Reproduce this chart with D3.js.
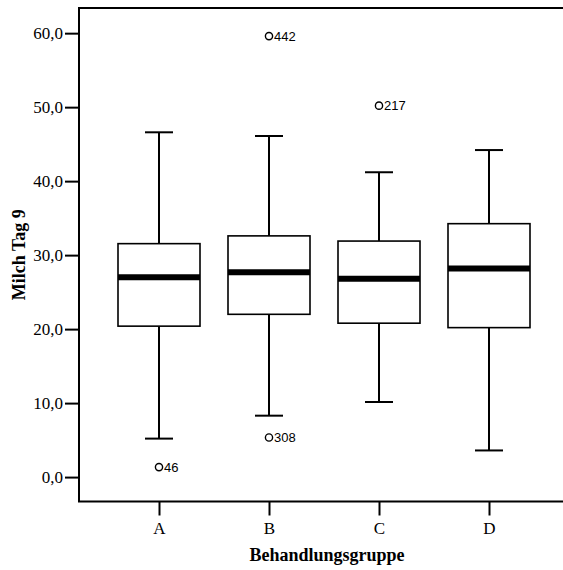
<!DOCTYPE html>
<html>
<head>
<meta charset="utf-8">
<script src="https://cdn.jsdelivr.net/npm/d3@7"></script>
<style>
  html, body { margin: 0; padding: 0; background: #fff; overflow: hidden; }
  svg { display: block; overflow: hidden; }
</style>
</head>
<body>
<svg id="chart" width="563" height="570"></svg>
<script>
// Milk yield on day 9 by treatment group
const groups   = ["A", "B", "C", "D"];
const whiskLo  = [5.2, 8.3, 10.15, 3.6];
const q1       = [20.4, 22.0, 20.8, 20.2];
const medians  = [27.0, 27.7, 26.8, 28.2];
const q3       = [31.55, 32.6, 31.9, 34.25];
const whiskHi  = [46.6, 46.1, 41.2, 44.2];
const outliers = [
  { group: "A", value: 1.35, id: "46" },
  { group: "B", value: 5.35, id: "308" },
  { group: "B", value: 59.6, id: "442" },
  { group: "C", value: 50.2, id: "217" }
];
const yTicks = [0, 10, 20, 30, 40, 50, 60];

const svg = d3.select("#chart");
const plotLeft = 79, plotTop = 8, plotBottom = 501.5;

const x = d3.scalePoint().domain(groups).range([104, 544]).padding(0.5);
const y = d3.scaleLinear().domain([-3.3, 63.4]).range([plotBottom, plotTop]);

const fmt = v => d3.format(".1f")(v).replace(".", ",");
const serif = "'Liberation Serif', 'Times New Roman', serif";
const sans = "'Liberation Sans', Arial, sans-serif";

// Axes
const yAxis = svg.append("g")
  .attr("transform", `translate(${plotLeft},0)`)
  .call(d3.axisLeft(y).tickValues(yTicks).tickFormat(fmt).tickSize(14).tickPadding(2));
const xAxis = svg.append("g")
  .attr("transform", `translate(0,${plotBottom})`)
  .call(d3.axisBottom(x).tickSize(14).tickPadding(6));
[yAxis, xAxis].forEach(g => {
  g.select(".domain").remove();
  g.selectAll(".tick line").attr("stroke", "#000").attr("stroke-width", 2);
  g.selectAll(".tick text").attr("fill", "#000")
    .style("font-family", serif).style("font-size", "17px");
});

// Plot frame: left, top and bottom edges; the right edge runs past the page
const frame = [
  [[plotLeft, plotTop], [plotLeft, plotBottom]],
  [[plotLeft - 1, plotTop], [563, plotTop]],
  [[plotLeft - 1, plotBottom], [563, plotBottom]]
];
svg.append("g").selectAll("line").data(frame).join("line")
  .attr("x1", d => d[0][0]).attr("y1", d => d[0][1])
  .attr("x2", d => d[1][0]).attr("y2", d => d[1][1])
  .attr("stroke", "#000").attr("stroke-width", 2);

// Box plots
const boxW = 82, capW = 28;
const data = groups.map((g, i) => ({
  g, lo: whiskLo[i], q1: q1[i], med: medians[i], q3: q3[i], hi: whiskHi[i]
}));
const box = svg.append("g").selectAll("g").data(data).join("g");

box.append("line")
  .attr("x1", d => x(d.g)).attr("x2", d => x(d.g))
  .attr("y1", d => y(d.hi)).attr("y2", d => y(d.q3))
  .attr("stroke", "#000").attr("stroke-width", 2);
box.append("line")
  .attr("x1", d => x(d.g)).attr("x2", d => x(d.g))
  .attr("y1", d => y(d.q1)).attr("y2", d => y(d.lo))
  .attr("stroke", "#000").attr("stroke-width", 2);
box.selectAll(".cap").data(d => [[d.g, d.hi], [d.g, d.lo]]).join("line")
  .attr("class", "cap")
  .attr("x1", d => x(d[0]) - capW / 2).attr("x2", d => x(d[0]) + capW / 2)
  .attr("y1", d => y(d[1])).attr("y2", d => y(d[1]))
  .attr("stroke", "#000").attr("stroke-width", 2);
box.append("rect")
  .attr("x", d => x(d.g) - boxW / 2).attr("width", boxW)
  .attr("y", d => y(d.q3)).attr("height", d => y(d.q1) - y(d.q3))
  .attr("fill", "#fff").attr("stroke", "#000").attr("stroke-width", 1.6);
box.append("line")
  .attr("x1", d => x(d.g) - boxW / 2).attr("x2", d => x(d.g) + boxW / 2)
  .attr("y1", d => y(d.med)).attr("y2", d => y(d.med))
  .attr("stroke", "#000").attr("stroke-width", 6);

// Outliers with case labels
const out = svg.append("g").selectAll("g").data(outliers).join("g");
out.append("circle")
  .attr("cx", d => x(d.group)).attr("cy", d => y(d.value)).attr("r", 3.6)
  .attr("fill", "#fff").attr("stroke", "#000").attr("stroke-width", 1.4);
out.append("text")
  .attr("x", d => x(d.group) + 5).attr("y", d => y(d.value))
  .attr("dy", "0.36em")
  .style("font-family", sans).style("font-size", "13px")
  .text(d => d.id);

// Axis titles
svg.append("text")
  .attr("x", 327).attr("y", 561)
  .attr("text-anchor", "middle")
  .style("font-family", serif).style("font-size", "18px").style("font-weight", "bold")
  .text("Behandlungsgruppe");
svg.append("text")
  .attr("transform", `translate(25,${(plotTop + plotBottom) / 2}) rotate(-90)`)
  .attr("text-anchor", "middle")
  .style("font-family", serif).style("font-size", "18px").style("font-weight", "bold")
  .text("Milch Tag 9");
</script>
</body>
</html>
